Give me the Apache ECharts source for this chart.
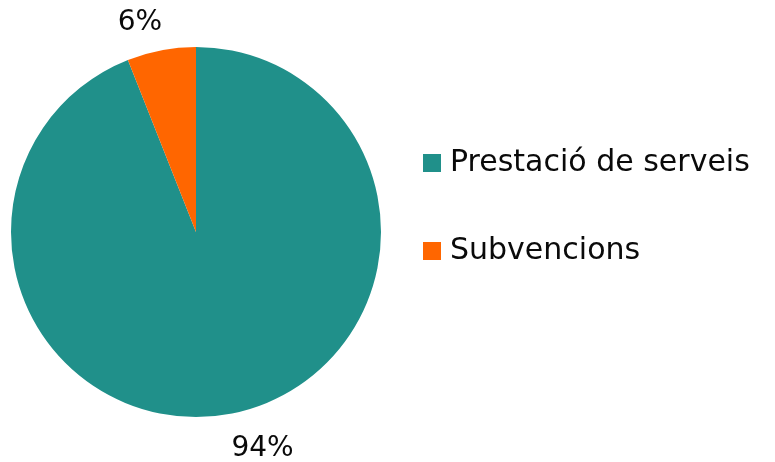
<!DOCTYPE html>
<html>
<head>
<meta charset="utf-8">
<script src="https://cdn.jsdelivr.net/npm/echarts@6/dist/echarts.min.js"></script>
<style>
  html, body { margin: 0; padding: 0; background: #fff; }
  #chart { width: 775px; height: 462px; }
</style>
</head>
<body>
<div id="chart"></div>
<script>
// Dades del gràfic
const categories = ['Prestació de serveis', 'Subvencions']
const values = [94, 6]
const colors = ['#20908a', '#ff6600']

// longitud (invisible) de la línia d'etiqueta per a cada sector
const labelLineLen = [36, 28]

const chart = echarts.init(document.getElementById('chart'))

const option = {
  animation: false,
  textStyle: { fontFamily: '"DejaVu Sans", sans-serif' },
  legend: {
    orient: 'vertical',
    left: 418,
    top: 143,
    itemWidth: 18,
    itemHeight: 18,
    itemGap: 58,
    icon: 'rect',
    data: categories,
    textStyle: {
      fontSize: 30,
      lineHeight: 30,
      fontWeight: 'normal',
      color: '#0a0a0a',
      padding: [0, 0, 0, 4]
    }
  },
  series: [
    {
      type: 'pie',
      center: [196, 232],
      radius: 185,
      startAngle: 90,
      clockwise: true,
      data: categories.map((name, i) => ({
        name,
        value: values[i],
        itemStyle: { color: colors[i] },
        labelLine: { length: labelLineLen[i] }
      })),
      label: {
        show: true,
        position: 'outside',
        formatter: '{c}%',
        fontSize: 28,
        color: '#0a0a0a',
        distanceToLabelLine: -6
      },
      labelLine: { show: false, length: 32, length2: 0 },
      itemStyle: { borderWidth: 0 }
    }
  ]
}

chart.setOption(option)
</script>
</body>
</html>
